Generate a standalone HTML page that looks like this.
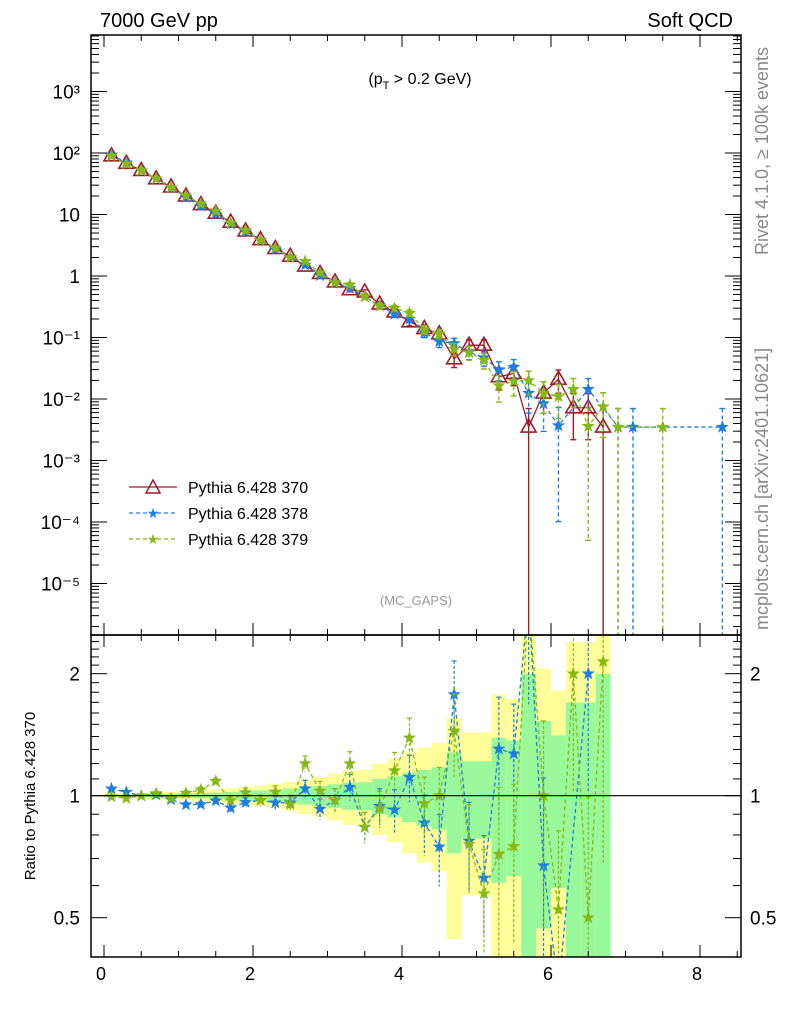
<!DOCTYPE html>
<html><head><meta charset="utf-8"><style>
html,body{margin:0;padding:0;background:#fff;overflow:hidden;width:786px;height:1024px;}
svg{display:block;font-family:"Liberation Sans",sans-serif;overflow:hidden;}
</style></head><body>
<svg id="chart" width="786" height="1024" viewBox="0 0 786 1024">
<defs>
<clipPath id="cm"><rect x="91" y="35" width="650" height="600"/></clipPath>
<clipPath id="cr"><rect x="91" y="635" width="650" height="322"/></clipPath>
</defs>
<g id="bands" clip-path="url(#cr)"></g>
<g id="marks"></g>
<g id="axes"></g>
<text x="100" y="27" font-size="20">7000 GeV pp</text>
<text x="733" y="27" font-size="20" text-anchor="end">Soft QCD</text>
<text x="420" y="84" font-size="16" text-anchor="middle">(p<tspan font-size="11" dy="5">T</tspan><tspan dy="-5"> &gt; 0.2 GeV)</tspan></text>
<text x="416" y="605" font-size="13" fill="#999" text-anchor="middle">(MC_GAPS)</text>
<text transform="translate(768,255) rotate(-90)" font-size="18" fill="#888">Rivet 4.1.0, ≥ 100k events</text>
<text transform="translate(768,630) rotate(-90)" font-size="18" fill="#888">mcplots.cern.ch [arXiv:2401.10621]</text>
<text transform="translate(35,796) rotate(-90)" font-size="15" text-anchor="middle">Ratio to Pythia 6.428 370</text>
<g>
<g><line x1="129" y1="487" x2="177" y2="487" stroke="#a01c2a" stroke-width="1.3"/><path d="M153,480 L160,493 L146,493 Z" fill="none" stroke="#a01c2a" stroke-width="1.5"/><text x="188" y="493" font-size="16">Pythia 6.428 370</text></g>
<g><line x1="129" y1="513" x2="177" y2="513" stroke="#1e7de0" stroke-width="1.3" stroke-dasharray="4,3"/><text x="153" y="518" font-size="14" fill="#1e7de0" text-anchor="middle">★</text><text x="188" y="519" font-size="16">Pythia 6.428 378</text></g>
<g><line x1="129" y1="539" x2="177" y2="539" stroke="#86b818" stroke-width="1.3" stroke-dasharray="4,3"/><text x="153" y="544" font-size="14" fill="#86b818" text-anchor="middle">★</text><text x="188" y="545" font-size="16">Pythia 6.428 379</text></g>
</g>
</svg>
<script>
const xs = [0.1,0.3,0.5,0.7,0.9,1.1,1.3,1.5,1.7,1.9,2.1,2.3,2.5,2.7,2.9,3.1,3.3,3.5,3.7,3.9,4.1,4.3,4.5,4.7,4.9,5.1,5.3,5.5,5.7,5.9,6.1,6.3,6.5,6.7,6.9,7.1,7.3,7.5,7.7,7.9,8.1,8.3];
const ref370 = [90,68,52,38,28,20,14.5,10.5,7.5,5.4,3.9,2.8,2.1,1.45,1.1,0.8,0.6,0.55,0.35,0.26,0.18,0.14,0.115,0.045,0.075,0.075,0.023,0.026,0.0035,0.0125,0.021,0.0072,0.0072,0.0035,null,null,null,null,null,null,null,null];
const s378 = [93.6,69.4,52,38.2,27.4,19,13.8,10.2,7.0,5.2,3.8,2.69,2.02,1.51,1.02,0.78,0.63,0.46,0.33,0.24,0.2,0.12,0.086,0.08,0.058,0.047,0.03,0.033,0.0125,0.0084,0.0037,null,0.0144,null,0.0035,0.0035,null,null,null,null,null,0.0035];
const s379 = [89.5,67,52,38.5,27.6,20.3,15,11.4,7.3,5.5,3.8,2.86,2.0,1.74,1.13,0.78,0.72,0.46,0.325,0.3,0.25,0.134,0.115,0.065,0.057,0.043,0.0165,0.0195,0.02,0.0125,0.011,0.0144,0.0036,0.0075,0.0035,null,null,0.0035,null,null,null,null];
const unitWeight = 0.0035;
const mainTicks = [[3,"10³"],[2,"10²"],[1,"10"],[0,"1"],[-1,"10⁻¹"],[-2,"10⁻²"],[-3,"10⁻³"],[-4,"10⁻⁴"],[-5,"10⁻⁵"]];
const ratioTicks = [2,1,0.5];
const xTickLabels = [0,2,4,6,8];

const NS="http://www.w3.org/2000/svg";
const X = v => 104 + v*74.5;
const Y = v => 276 - Math.log10(v)*61.5;
const R = r => 795.7 - Math.log2(r)*122;
const MTOP=35,MBOT=635,RBOT=957,L=91,RT=741;
function mk(tag,attrs,parent){const e=document.createElementNS(NS,tag);for(const k in attrs)e.setAttribute(k,attrs[k]);parent.appendChild(e);return e;}
const axes=document.getElementById('axes'), marks=document.getElementById('marks'), bands=document.getElementById('bands');

xs.forEach((x,i)=>{const v=ref370[i]; if(v==null)return; const s=1/Math.sqrt(v/unitWeight);
  const lo2=1-2*s>0.01?R(1-2*s):RBOT+5;
  const y2=mk('rect',{x:X(x-0.1),width:74.5*0.2,y:R(1+2*s),height:lo2-R(1+2*s),fill:'#ffff99'},bands);
  
  
  const lo1=1-s>0.01?R(1-s):RBOT+5;
  const g=mk('rect',{x:X(x-0.1),width:74.5*0.2,y:R(1+s),height:lo1-R(1+s),fill:'#99f899'},bands);
  
  
});
mk('line',{x1:L,x2:RT,y1:R(1),y2:R(1),stroke:'#000','stroke-width':1.2},axes);

function star(cx,cy,r,color,parent){let d='';for(let k=0;k<10;k++){const a=-Math.PI/2+k*Math.PI/5;const rr=k%2?r*0.42:r;d+=(k?'L':'M')+(cx+rr*Math.cos(a)).toFixed(1)+','+(cy+rr*Math.sin(a)).toFixed(1);}return mk('path',{d:d+'Z',fill:color,stroke:color,'stroke-width':0.6},parent);}
function tri(cx,cy,parent,color){return mk('path',{d:`M${cx},${cy-8}L${cx+7.5},${cy+5}L${cx-7.5},${cy+5}Z`,fill:'none',stroke:color,'stroke-width':1.6},parent);}

function drawSeries(vals,color,dash,kind,name){
  const gm=mk('g',{'clip-path':'url(#cm)'},marks);
  
  
  const gr=mk('g',{'clip-path':'url(#cr)'},marks);
  
  
  let p='',pr='';
  xs.forEach((x,i)=>{const v=vals[i]; if(v==null)return; p+=(p?'L':'M')+X(x)+','+Y(v);
    const rf=ref370[i]; if(rf!=null){const r=v/rf; pr+=(pr?'L':'M')+X(x)+','+Math.min(Math.max(R(r),600),990);}});
  const lm=mk('path',{d:p,fill:'none',stroke:color,'stroke-width':1.3,'stroke-dasharray':dash},gm);
  
  
  if(kind!=='tri'){const lr=mk('path',{d:pr,fill:'none',stroke:color,'stroke-width':1.3,'stroke-dasharray':dash},gr);
    
    }
  xs.forEach((x,i)=>{const v=vals[i]; if(v==null)return; const s=1/Math.sqrt(v/unitWeight);
    const up=v*(1+s), dn=v*(1-s);
    const eb=mk('line',{x1:X(x),x2:X(x),y1:Y(up),y2:dn>1e-7?Y(dn):660,stroke:color,'stroke-width':1.4,'stroke-dasharray':dash},gm);
    
    
    mk('line',{x1:X(x)-3,x2:X(x)+3,y1:Y(up),y2:Y(up),stroke:color,'stroke-width':1.4},gm);
    if(dn>1e-7)mk('line',{x1:X(x)-3,x2:X(x)+3,y1:Y(dn),y2:Y(dn),stroke:color,'stroke-width':1.4},gm);
    const m=kind==='tri'?tri(X(x),Y(v),gm,color):star(X(x),Y(v),6,color,gm);
    
    
    const rf=ref370[i]; if(kind!=='tri' && rf!=null){const r=v/rf;
      const re=mk('line',{x1:X(x),x2:X(x),y1:R(r*(1+s)),y2:r*(1-s)>0.01?R(r*(1-s)):990,stroke:color,'stroke-width':1.2,'stroke-dasharray':'3,2'},gr);
      
      
      mk('line',{x1:X(x)-2.5,x2:X(x)+2.5,y1:R(r*(1+s)),y2:R(r*(1+s)),stroke:color,'stroke-width':1.2},gr);
      const rm=star(X(x),R(r),6,color,gr);
      
      }
  });
}
drawSeries(ref370,'#a01c2a','none','tri','series-370');
drawSeries(s378,'#1e7de0','4,3','star','series-378');
drawSeries(s379,'#86b818','4,3','star','series-379');

const f1=mk('rect',{x:L,y:MTOP,width:RT-L,height:MBOT-MTOP,fill:'none',stroke:'#000','stroke-width':1.5},axes);


const f2=mk('rect',{x:L,y:MBOT,width:RT-L,height:RBOT-MBOT,fill:'none',stroke:'#000','stroke-width':1.5},axes);


for(let v=0;v<=8.5;v+=0.5){const major=(v%2===0); const len=major?12:6;
  [MTOP,MBOT,RBOT].forEach(yb=>{ if(yb!==MTOP) mk('line',{x1:X(v),x2:X(v),y1:yb,y2:yb-len,stroke:'#000'},axes);
    if(yb!==RBOT) mk('line',{x1:X(v),x2:X(v),y1:yb,y2:yb+len,stroke:'#000'},axes);});
}
xTickLabels.forEach(v=>{const t=mk('text',{x:X(v)-3,y:980,'font-size':18,'text-anchor':'middle'},axes);t.textContent=v;
  
  });
for(let d=-6;d<=3;d++){for(let k=1;k<10;k++){const v=Math.pow(10,d)*k; const y=Y(v); if(y<MTOP||y>MBOT)continue; const len=k===1?16:8;
  mk('line',{x1:L,x2:L+len,y1:y,y2:y,stroke:'#000'},axes); mk('line',{x1:RT,x2:RT-len,y1:y,y2:y,stroke:'#000'},axes);}}
mainTicks.forEach(([e,lab])=>{const t=mk('text',{x:80,y:Y(Math.pow(10,e))+7,'font-size':19,'text-anchor':'end'},axes);t.textContent=lab;
  
  });
for(let r=0.4;r<=2.45;r+=0.1){const y=R(r); if(y<MBOT||y>RBOT)continue; const major=[0.5,1,2].some(m=>Math.abs(m-r)<1e-6); const len=major?16:8;
  mk('line',{x1:L,x2:L+len,y1:y,y2:y,stroke:'#000'},axes); mk('line',{x1:RT,x2:RT-len,y1:y,y2:y,stroke:'#000'},axes);}
ratioTicks.forEach(r=>{const t=mk('text',{x:80,y:R(r)+7,'font-size':19,'text-anchor':'end'},axes);t.textContent=r;
  
  
  const t2=mk('text',{x:750,y:R(r)+7,'font-size':19},axes);t2.textContent=r;
  
  });
</script>
</body></html>
